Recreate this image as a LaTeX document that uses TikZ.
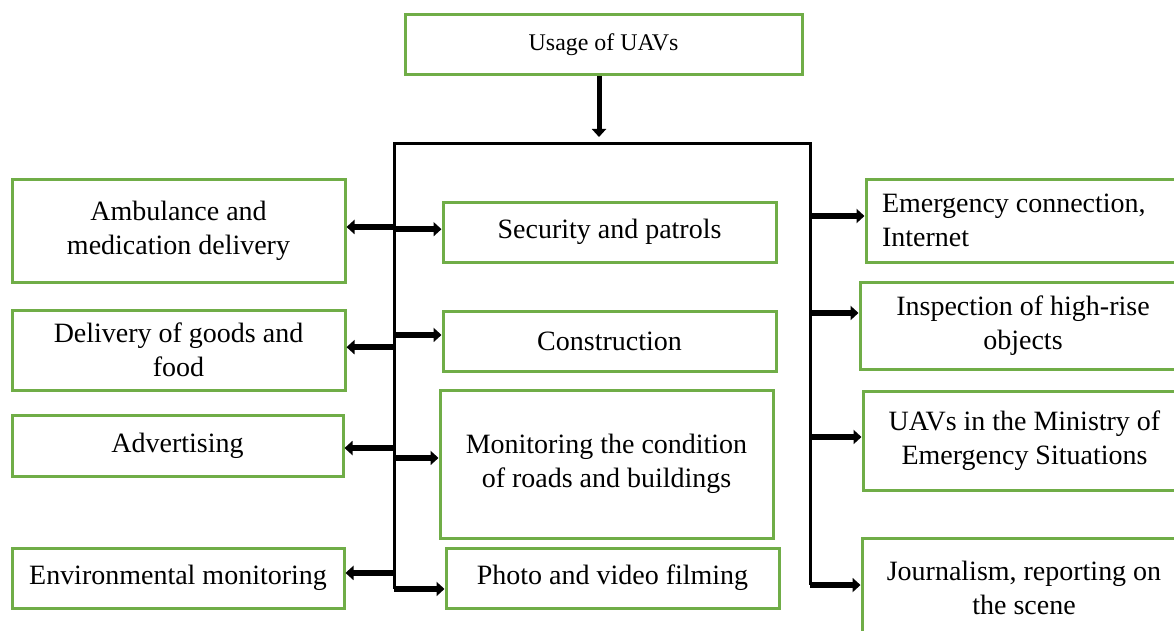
\documentclass[tikz,border=0pt]{standalone}
\usepackage{fontspec}
\setmainfont{Liberation Serif}
\usetikzlibrary{arrows.meta}
\definecolor{boxgreen}{RGB}{112,173,71}
\newcommand{\px}{0.025cm}
\tikzset{
  usebox/.style={draw=boxgreen, line width=3*\px, fill=white, inner sep=0pt,
    align=center, font=\fontsize{19.9}{24.2}\selectfont},
  trunk/.style={line width=3*\px},
  branch/.style={line width=6*\px, -{Triangle[length=8*\px, width=14*\px]}}
}
\begin{document}
\begin{tikzpicture}[x=\px, y=-\px]
        \useasboundingbox (0,0) rectangle (1174,630);
        \clip (0,0) rectangle (1174,630);
        % top box
        \node[usebox, minimum width=397*\px, minimum height=60*\px, font=\fontsize{17}{20}\selectfont] (top) at (603.5,45) {Usage of UAVs};
        \coordinate (hub) at (599,137);
        \coordinate (lt) at (394,144);
        \coordinate (rt) at (810,144);
        % left column
        \node[usebox, minimum width=333*\px, minimum height=103*\px] (amb) at (178.5,230.5) {Ambulance and\\medication delivery};
        \node[usebox, minimum width=333*\px, minimum height=80*\px] (goods) at (178.5,350) {Delivery of goods and\\food};
        \node[usebox, minimum width=331*\px, minimum height=61*\px] (adv) at (177.5,445.5) {Advertising};
        \node[usebox, minimum width=332*\px, minimum height=60*\px] (env) at (178,578) {Environmental monitoring};
        % middle column
        \node[usebox, minimum width=333*\px, minimum height=60*\px] (sec) at (609.5,232) {Security and patrols};
        \node[usebox, minimum width=333*\px, minimum height=60*\px] (constr) at (609.5,341) {Construction};
        \node[usebox, minimum width=333*\px, minimum height=148*\px] (mon) at (606.5,464) {Monitoring the condition\\of roads and buildings};
        \node[usebox, minimum width=333*\px, minimum height=60*\px] (photo) at (612.5,578) {Photo and video filming};
        % right column
        \node[usebox, minimum width=320*\px, minimum height=83*\px, inner xsep=16*\px, text width=288*\px, align=flush left] (emerg) at (1026,220.5) {Emergency connection,\\Internet};
        \node[usebox, minimum width=326*\px, minimum height=87*\px] (insp) at (1023,325.5) {Inspection of high-rise\\objects};
        \node[usebox, minimum width=323*\px, minimum height=99*\px] (emin) at (1024.5,440.5) {UAVs in the Ministry of\\Emergency Situations};
        \node[usebox, minimum width=324*\px, minimum height=100*\px] (jour) at (1024,588) {Journalism, reporting on\\the scene};
        % main arrow and trunk
        \draw[line width=5*\px, -{Triangle[length=8*\px, width=14*\px]}] (top.south -| hub) -- (hub);
        \draw[trunk] ([yshift=-7.8pt]photo.west -| lt) -- (lt) -- (rt) -- ([yshift=2.1pt]jour.west -| rt);
        % branches to the left
        \draw[branch] ([yshift=2.5pt]amb.east -| lt) -- ([yshift=2.5pt]amb.east);
        \draw[branch] ([yshift=2pt]goods.east -| lt) -- ([yshift=2pt]goods.east);
        \draw[branch] ([yshift=-1.8pt]adv.east -| lt) -- ([yshift=-1.8pt]adv.east);
        \draw[branch] ([yshift=3.6pt]env.east -| lt) -- ([yshift=3.6pt]env.east);
        % branches to the middle
        \draw[branch] ([yshift=2pt]sec.west -| lt) -- ([yshift=2pt]sec.west);
        \draw[branch] ([yshift=4.3pt]constr.west -| lt) -- ([yshift=4.3pt]constr.west);
        \draw[branch] ([yshift=4.3pt]mon.west -| lt) -- ([yshift=4.3pt]mon.west);
        \draw[branch] ([yshift=-7.8pt]photo.west -| lt) -- ([yshift=-7.8pt]photo.west);
        % branches to the right
        \draw[branch] ([yshift=3.2pt]emerg.west -| rt) -- ([yshift=3.2pt]emerg.west);
        \draw[branch] ([yshift=8.9pt]insp.west -| rt) -- ([yshift=8.9pt]insp.west);
        \draw[branch] ([yshift=2.5pt]emin.west -| rt) -- ([yshift=2.5pt]emin.west);
        \draw[branch] ([yshift=2.1pt]jour.west -| rt) -- ([yshift=2.1pt]jour.west);
\end{tikzpicture}
\end{document}
